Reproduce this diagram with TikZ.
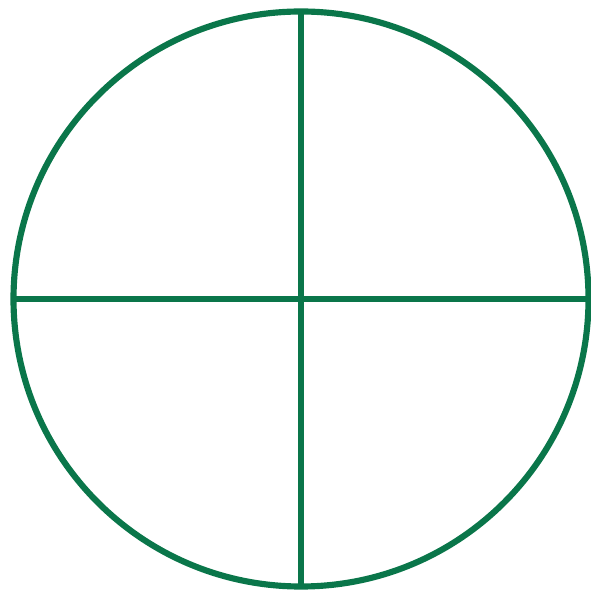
\documentclass[tikz,border=0pt]{standalone}
\usepackage{xcolor}
\usepackage{tikz}
\usetikzlibrary{positioning}
\definecolor{dialgreen}{RGB}{10,118,74}

\begin{document}
\begin{tikzpicture}[
    rim/.style={circle, draw=dialgreen, line width=1.75pt, minimum size=5.75cm, inner sep=0pt, outer sep=0pt},
    spoke/.style={draw=dialgreen, line width=1.75pt}]
    \useasboundingbox (0,0) rectangle (5.90,-5.93);
    \node[rim] (dial) at (3.01,-2.99) {};
    \draw[spoke] (dial.north) -- (dial.south);
    \draw[spoke] (dial.west) -- (dial.east);
\end{tikzpicture}
\end{document}
